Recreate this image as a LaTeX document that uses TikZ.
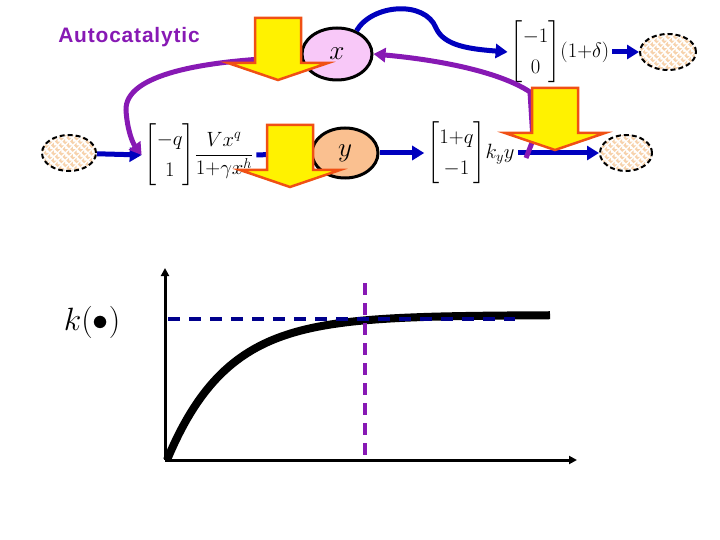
\documentclass[tikz,border=0pt]{standalone}
\usepackage{amsmath}
\usepackage{graphicx}
\usepackage{fontspec}
\newfontfamily\arialfont[LetterSpace=4]{Liberation Sans}
\usetikzlibrary{arrows.meta,shapes.geometric}
\definecolor{blueline}{RGB}{0,0,190}
\definecolor{purp}{RGB}{135,25,180}
\definecolor{pinkfill}{RGB}{248,200,248}
\definecolor{peach}{RGB}{250,192,144}
\definecolor{dotc}{RGB}{247,210,172}
\definecolor{orangeline}{RGB}{240,80,20}
\definecolor{navy}{RGB}{0,0,140}
\tikzset{
  ell/.style={ellipse, draw=black, line width=3bp, inner sep=0pt, font=\fontsize{24}{26}\selectfont},
  src/.style={ellipse, draw=black, line width=2bp, dash pattern=on 5bp off 3bp, fill=white, inner sep=0pt,
    path picture={
      \begin{scope}[shift={(path picture bounding box.center)}]
      \foreach \i in {-9,...,9}{\foreach \j in {-9,...,9}{
        \fill[dotc] ({(\i+\j)*3.8},{(\i-\j)*3.8}) -- ++(2.7,0) -- ++(-2.7,2.7) -- ++(-2.7,-2.7) -- ++(2.7,-2.7) -- cycle;}}
      \end{scope}}},
  mat/.style={inner sep=3bp, font=\fontsize{21}{24}\selectfont},
  bl/.style={draw=blueline, line width=5bp, -{Triangle[length=12bp,width=14bp]}},
  pu/.style={draw=purp, line width=5bp, -{Triangle[length=12bp,width=14bp]}},
  yarrow/.pic={\draw[fill=yellow, draw=orangeline, line width=2.5bp, line join=miter]
     (-23,-62) -- (23,-62) -- (23,-17) -- (50,-17) -- (0,0) -- (-50,-17) -- (-23,-17) -- cycle;}
}
\begin{document}
\begin{tikzpicture}[x=1bp,y=-1bp]
\useasboundingbox (0,0) rectangle (720,540);

% label
\node[text=purp, font=\arialfont\bfseries\fontsize{21}{24}\selectfont] (A) at (129,37) {Autocatalytic};

% ellipses
\node[ell, fill=pinkfill, minimum width=70bp, minimum height=52bp] (X) at (337,54) {\scalebox{1.1}{$x$}};
\node[ell, fill=peach, minimum width=66bp, minimum height=50bp] (Y) at (345,153) {\scalebox{1.1}{$y$}};
\node[src, minimum width=54bp, minimum height=36bp] (S1) at (69,153) {};
\node[src, minimum width=56bp, minimum height=36bp] (S2) at (668,52) {};
\node[src, minimum width=52bp, minimum height=36bp] (S3) at (626,153) {};

% matrices
\node[mat] (M1) at (199,155) {\renewcommand{\arraystretch}{1.3}$\begin{bmatrix}-q\\1\end{bmatrix}\!\dfrac{Vx^q}{1{+}\gamma x^h}$};
\node[mat] (M2) at (560,52) {\renewcommand{\arraystretch}{1.3}$\begin{bmatrix}-1\\0\end{bmatrix}\!(1{+}\delta)$};
\node[mat] (M3) at (471,153) {\renewcommand{\arraystretch}{1.3}$\begin{bmatrix}1{+}q\\-1\end{bmatrix}\!k_y y$};

% blue connectors
\draw[bl] (S1) -- (M1.west);
\draw[bl] (M1.east) -- (Y.west);
\draw[bl] (Y.east) -- (M3.west);
\draw[bl] (M3.east) -- (S3.west);
\draw[bl] (M2.east) -- (S2.west);
\draw[bl] (X.50) .. controls (372,4) and (425,0) .. (436,28) .. controls (444,46) and (470,49) .. (M2.west);

% purple connectors
\draw[pu] (X.185) .. controls (200,60) and (125,75) .. (126,110) .. controls (127,128) and (132,142) .. (M1.west);
\coordinate (P3) at (526,158);
\draw[pu] (P3) -- (533,140) -- (530,92) .. controls (500,72) and (440,60) .. (X.east);

% yellow arrows
\pic at (278,80) {yarrow};
\pic at (290,187) {yarrow};
\pic at (555,150) {yarrow};

% graph
\coordinate (O) at (165,460);
\coordinate (YT) at (165,268);
\coordinate (XT) at (577,460);
\draw[line width=3bp, -{Triangle[length=8bp,width=8bp]}] (O) -- (YT);
\draw[line width=3bp, -{Triangle[length=8bp,width=8bp]}] (O) -- (XT);
\draw[line width=8bp] plot[domain=167:550, samples=100] (\x,{460-145*(1-exp(-(\x-167)/60))});
\draw[purp, line width=3.5bp, dash pattern=on 12bp off 8bp] (365,283) -- (365,463);
\draw[navy, line width=4bp, dash pattern=on 12bp off 9bp] (168,319) -- (515,319);
\node (K) at (92,322) {\fontsize{24}{28}\selectfont\scalebox{1.3}{$k(\bullet)$}};
\end{tikzpicture}
\end{document}
